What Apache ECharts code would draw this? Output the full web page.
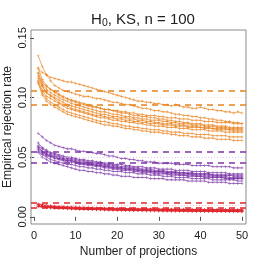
<!DOCTYPE html>
<html><head><meta charset="utf-8">
<script src="https://cdn.jsdelivr.net/npm/echarts@6/dist/echarts.min.js"></script>
<style>html,body{margin:0;padding:0;background:#fff}#c{width:262px;height:262px}</style>
</head><body><div id="c"></div>
<script>
var projections = [];
for (var i = 1; i <= 50; i++) projections.push(i);

var xTicks = [0, 10, 20, 30, 40, 50];
var yTicks = [0, 0.05, 0.10, 0.15];
var yTickLabels = ['0.00', '0.05', '0.10', '0.15'];

var nominalLevels = [0.10, 0.05, 0.01];
var bandOrange = [0.0941, 0.1059];
var bandPurple = [0.0457, 0.0543];
var bandRed = [0.0080, 0.0120];

var orange1 = [0.124,0.121,0.119,0.117,0.116,0.115,0.114,0.113,0.113,0.112,0.111,0.110,0.109,0.108,0.107,0.106,0.105,0.104,0.103,0.102,0.101,0.100,0.099,0.098,0.097,0.097,0.096,0.096,0.095,0.095,0.094,0.094,0.093,0.094,0.093,0.092,0.092,0.091,0.091,0.092,0.091,0.090,0.090,0.089,0.089,0.088,0.088,0.087,0.088,0.087];
var orange2 = [0.135,0.126,0.119,0.114,0.110,0.108,0.106,0.105,0.104,0.103,0.102,0.101,0.101,0.100,0.099,0.099,0.098,0.097,0.096,0.096,0.095,0.094,0.094,0.093,0.092,0.091,0.091,0.090,0.089,0.089,0.088,0.088,0.087,0.086,0.086,0.085,0.085,0.084,0.084,0.083,0.083,0.082,0.082,0.081,0.081,0.080,0.080,0.079,0.079,0.078];
var orange3 = [0.121,0.113,0.109,0.107,0.105,0.103,0.101,0.099,0.098,0.097,0.096,0.095,0.094,0.093,0.092,0.091,0.090,0.090,0.089,0.088,0.087,0.087,0.086,0.085,0.085,0.084,0.084,0.083,0.083,0.082,0.082,0.081,0.081,0.080,0.080,0.079,0.079,0.078,0.078,0.078,0.077,0.077,0.077,0.076,0.076,0.076,0.075,0.075,0.075,0.075];
var orange4 = [0.118,0.111,0.107,0.104,0.102,0.100,0.098,0.097,0.095,0.094,0.093,0.092,0.091,0.090,0.089,0.088,0.088,0.087,0.086,0.086,0.085,0.084,0.084,0.083,0.083,0.082,0.082,0.081,0.081,0.081,0.080,0.080,0.079,0.079,0.078,0.078,0.078,0.077,0.077,0.077,0.076,0.076,0.076,0.075,0.075,0.075,0.074,0.074,0.074,0.074];
var orange5 = [0.116,0.109,0.104,0.102,0.100,0.098,0.096,0.094,0.093,0.092,0.091,0.090,0.089,0.088,0.087,0.086,0.086,0.085,0.084,0.084,0.083,0.083,0.082,0.082,0.081,0.081,0.080,0.080,0.079,0.079,0.078,0.078,0.078,0.077,0.077,0.077,0.076,0.076,0.076,0.075,0.075,0.075,0.074,0.074,0.074,0.074,0.073,0.073,0.073,0.073];
var orange6 = [0.120,0.110,0.104,0.101,0.099,0.096,0.094,0.093,0.091,0.090,0.089,0.088,0.087,0.086,0.085,0.085,0.084,0.083,0.083,0.082,0.082,0.081,0.081,0.080,0.080,0.079,0.079,0.078,0.078,0.078,0.077,0.077,0.077,0.076,0.076,0.076,0.075,0.075,0.075,0.075,0.074,0.074,0.074,0.073,0.073,0.073,0.073,0.072,0.072,0.072];
var orange7 = [0.114,0.106,0.101,0.099,0.097,0.095,0.093,0.091,0.090,0.089,0.088,0.087,0.086,0.085,0.084,0.083,0.083,0.082,0.081,0.081,0.080,0.080,0.079,0.079,0.078,0.078,0.077,0.077,0.076,0.076,0.076,0.075,0.075,0.075,0.074,0.074,0.074,0.073,0.073,0.073,0.073,0.072,0.072,0.072,0.072,0.071,0.071,0.071,0.071,0.071];
var orange8 = [0.113,0.104,0.099,0.096,0.094,0.092,0.090,0.088,0.087,0.086,0.085,0.084,0.083,0.082,0.081,0.080,0.080,0.079,0.078,0.078,0.077,0.076,0.076,0.075,0.075,0.074,0.074,0.073,0.073,0.073,0.072,0.072,0.071,0.071,0.071,0.070,0.070,0.070,0.069,0.069,0.069,0.069,0.068,0.068,0.068,0.068,0.067,0.067,0.067,0.067];
var orange9 = [0.112,0.102,0.097,0.094,0.092,0.090,0.088,0.086,0.085,0.084,0.083,0.082,0.081,0.080,0.079,0.078,0.077,0.077,0.076,0.076,0.075,0.074,0.074,0.073,0.073,0.072,0.072,0.071,0.071,0.071,0.070,0.070,0.069,0.069,0.068,0.068,0.068,0.067,0.067,0.067,0.066,0.066,0.066,0.065,0.065,0.065,0.065,0.064,0.064,0.064];
var orange10 = [0.125,0.115,0.110,0.107,0.104,0.102,0.100,0.099,0.097,0.096,0.095,0.094,0.093,0.092,0.092,0.091,0.090,0.090,0.089,0.089,0.088,0.088,0.087,0.087,0.086,0.086,0.085,0.085,0.085,0.084,0.084,0.083,0.083,0.083,0.082,0.082,0.082,0.081,0.081,0.081,0.080,0.080,0.080,0.079,0.079,0.079,0.079,0.078,0.078,0.078];

var purple1 = [0.070,0.067,0.064,0.062,0.060,0.059,0.058,0.057,0.057,0.056,0.055,0.055,0.054,0.054,0.053,0.053,0.052,0.051,0.051,0.050,0.049,0.049,0.048,0.048,0.047,0.047,0.046,0.046,0.046,0.045,0.045,0.045,0.045,0.044,0.044,0.044,0.044,0.043,0.043,0.043,0.043,0.043,0.042,0.042,0.042,0.042,0.042,0.041,0.041,0.041];
var purple2 = [0.062,0.058,0.056,0.054,0.053,0.052,0.051,0.050,0.050,0.049,0.048,0.048,0.047,0.047,0.046,0.046,0.045,0.045,0.044,0.044,0.044,0.043,0.043,0.042,0.042,0.042,0.041,0.041,0.041,0.040,0.040,0.040,0.040,0.039,0.039,0.039,0.039,0.038,0.038,0.038,0.038,0.037,0.037,0.037,0.037,0.037,0.036,0.036,0.036,0.036];
var purple3 = [0.060,0.057,0.055,0.053,0.052,0.051,0.050,0.049,0.049,0.048,0.047,0.047,0.046,0.046,0.045,0.045,0.044,0.044,0.043,0.043,0.042,0.042,0.042,0.041,0.041,0.040,0.040,0.040,0.039,0.039,0.039,0.038,0.038,0.038,0.037,0.037,0.037,0.037,0.036,0.036,0.036,0.036,0.035,0.035,0.035,0.035,0.035,0.034,0.034,0.034];
var purple4 = [0.058,0.055,0.053,0.052,0.051,0.050,0.049,0.048,0.048,0.047,0.046,0.046,0.045,0.045,0.044,0.044,0.043,0.043,0.042,0.042,0.041,0.041,0.041,0.040,0.040,0.039,0.039,0.039,0.038,0.038,0.038,0.037,0.037,0.037,0.036,0.036,0.036,0.036,0.035,0.035,0.035,0.035,0.034,0.034,0.034,0.034,0.033,0.033,0.033,0.033];
var purple5 = [0.057,0.054,0.052,0.051,0.050,0.049,0.048,0.047,0.047,0.046,0.045,0.045,0.044,0.044,0.043,0.043,0.042,0.042,0.041,0.041,0.040,0.040,0.040,0.039,0.039,0.038,0.038,0.038,0.037,0.037,0.037,0.036,0.036,0.036,0.035,0.035,0.035,0.035,0.034,0.034,0.034,0.034,0.033,0.033,0.033,0.033,0.032,0.032,0.032,0.032];
var purple6 = [0.056,0.053,0.051,0.050,0.049,0.048,0.047,0.046,0.046,0.045,0.044,0.044,0.043,0.043,0.042,0.042,0.041,0.041,0.040,0.040,0.039,0.039,0.039,0.038,0.038,0.037,0.037,0.037,0.036,0.036,0.036,0.036,0.035,0.035,0.035,0.035,0.034,0.034,0.034,0.034,0.033,0.033,0.033,0.033,0.033,0.032,0.032,0.032,0.032,0.032];
var purple7 = [0.055,0.052,0.050,0.048,0.047,0.046,0.045,0.044,0.044,0.043,0.042,0.042,0.041,0.041,0.040,0.040,0.039,0.039,0.038,0.038,0.038,0.037,0.037,0.037,0.036,0.036,0.036,0.035,0.035,0.035,0.034,0.034,0.034,0.033,0.033,0.033,0.033,0.032,0.032,0.032,0.032,0.032,0.031,0.031,0.031,0.031,0.031,0.031,0.030,0.030];
var purple8 = [0.054,0.050,0.048,0.046,0.045,0.044,0.043,0.042,0.041,0.040,0.039,0.039,0.038,0.038,0.037,0.037,0.036,0.036,0.035,0.035,0.034,0.034,0.034,0.033,0.033,0.033,0.033,0.032,0.032,0.032,0.032,0.031,0.031,0.031,0.031,0.031,0.030,0.030,0.030,0.030,0.030,0.029,0.029,0.029,0.029,0.029,0.028,0.028,0.028,0.028];
var purple9 = [0.059,0.055,0.052,0.051,0.050,0.049,0.048,0.047,0.047,0.046,0.045,0.045,0.044,0.044,0.043,0.043,0.042,0.042,0.041,0.041,0.041,0.040,0.040,0.040,0.039,0.039,0.039,0.038,0.038,0.038,0.038,0.037,0.037,0.037,0.037,0.037,0.036,0.036,0.036,0.036,0.036,0.036,0.035,0.035,0.035,0.035,0.035,0.035,0.035,0.035];

var red1 = [0.0110,0.0102,0.0098,0.0094,0.0091,0.0089,0.0087,0.0085,0.0083,0.0082,0.0081,0.0080,0.0078,0.0077,0.0076,0.0075,0.0074,0.0073,0.0072,0.0071,0.0071,0.0070,0.0069,0.0069,0.0068,0.0068,0.0067,0.0067,0.0066,0.0066,0.0065,0.0065,0.0065,0.0064,0.0064,0.0064,0.0063,0.0063,0.0063,0.0062,0.0062,0.0062,0.0062,0.0061,0.0061,0.0061,0.0061,0.0060,0.0060,0.0060];
var red2 = [0.0100,0.0094,0.0090,0.0087,0.0084,0.0082,0.0080,0.0078,0.0076,0.0075,0.0073,0.0072,0.0071,0.0070,0.0069,0.0068,0.0067,0.0066,0.0065,0.0065,0.0064,0.0063,0.0063,0.0062,0.0061,0.0061,0.0060,0.0060,0.0059,0.0059,0.0058,0.0058,0.0058,0.0057,0.0057,0.0056,0.0056,0.0056,0.0055,0.0055,0.0055,0.0054,0.0054,0.0054,0.0053,0.0053,0.0053,0.0053,0.0052,0.0052];
var red3 = [0.0092,0.0088,0.0084,0.0081,0.0079,0.0077,0.0075,0.0073,0.0071,0.0070,0.0068,0.0067,0.0066,0.0065,0.0064,0.0063,0.0062,0.0061,0.0060,0.0060,0.0059,0.0058,0.0058,0.0057,0.0056,0.0056,0.0055,0.0055,0.0054,0.0054,0.0053,0.0053,0.0052,0.0052,0.0052,0.0051,0.0051,0.0050,0.0050,0.0050,0.0049,0.0049,0.0049,0.0048,0.0048,0.0048,0.0048,0.0047,0.0047,0.0047];
var red4 = [0.0098,0.0092,0.0087,0.0083,0.0080,0.0077,0.0075,0.0073,0.0071,0.0069,0.0067,0.0066,0.0064,0.0063,0.0062,0.0061,0.0060,0.0059,0.0058,0.0057,0.0056,0.0056,0.0055,0.0054,0.0054,0.0053,0.0052,0.0052,0.0051,0.0051,0.0050,0.0050,0.0049,0.0049,0.0048,0.0048,0.0048,0.0047,0.0047,0.0046,0.0046,0.0046,0.0045,0.0045,0.0045,0.0044,0.0044,0.0044,0.0044,0.0043];
var red5 = [0.0085,0.0081,0.0078,0.0075,0.0073,0.0071,0.0069,0.0068,0.0066,0.0065,0.0064,0.0063,0.0062,0.0061,0.0060,0.0059,0.0058,0.0057,0.0057,0.0056,0.0055,0.0055,0.0054,0.0053,0.0053,0.0052,0.0052,0.0051,0.0051,0.0050,0.0050,0.0049,0.0049,0.0049,0.0048,0.0048,0.0047,0.0047,0.0047,0.0046,0.0046,0.0046,0.0045,0.0045,0.0045,0.0045,0.0044,0.0044,0.0044,0.0044];
var red6 = [0.0095,0.0090,0.0086,0.0083,0.0080,0.0078,0.0076,0.0074,0.0073,0.0072,0.0071,0.0070,0.0069,0.0068,0.0068,0.0067,0.0066,0.0066,0.0065,0.0065,0.0064,0.0064,0.0063,0.0063,0.0062,0.0062,0.0062,0.0061,0.0061,0.0061,0.0060,0.0060,0.0060,0.0059,0.0059,0.0059,0.0059,0.0058,0.0058,0.0058,0.0058,0.0057,0.0057,0.0057,0.0057,0.0057,0.0056,0.0056,0.0056,0.0056];
var red7 = [0.0088,0.0084,0.0080,0.0077,0.0075,0.0073,0.0071,0.0069,0.0068,0.0067,0.0066,0.0065,0.0064,0.0063,0.0062,0.0062,0.0061,0.0060,0.0060,0.0059,0.0059,0.0058,0.0058,0.0057,0.0057,0.0056,0.0056,0.0056,0.0055,0.0055,0.0055,0.0054,0.0054,0.0054,0.0053,0.0053,0.0053,0.0053,0.0052,0.0052,0.0052,0.0052,0.0051,0.0051,0.0051,0.0051,0.0051,0.0050,0.0050,0.0050];
var red8 = [0.0102,0.0096,0.0091,0.0087,0.0084,0.0081,0.0079,0.0077,0.0076,0.0075,0.0074,0.0073,0.0072,0.0071,0.0070,0.0069,0.0069,0.0068,0.0067,0.0067,0.0066,0.0066,0.0065,0.0065,0.0064,0.0064,0.0064,0.0063,0.0063,0.0063,0.0062,0.0062,0.0062,0.0061,0.0061,0.0061,0.0061,0.0060,0.0060,0.0060,0.0060,0.0059,0.0059,0.0059,0.0059,0.0059,0.0058,0.0058,0.0058,0.0058];

var groups = [
  {color: '#E8821E', faint: '#F6CFA6', band: bandOrange, level: nominalLevels[0],
   lines: [orange1, orange2, orange3, orange4, orange5, orange6, orange7, orange8, orange9, orange10]},
  {color: '#7B35A6', faint: '#D3BDE2', band: bandPurple, level: nominalLevels[1],
   lines: [purple1, purple2, purple3, purple4, purple5, purple6, purple7, purple8, purple9]},
  {color: '#E0262E', faint: '#F4B0B2', band: bandRed, level: nominalLevels[2],
   lines: [red1, red2, red3, red4, red5, red6, red7, red8]}
];

var plusSymbol = 'path://M2,0H3V2H5V3H3V5H2V3H0V2H2Z';
var series = [];
groups.forEach(function (g) {
  g.lines.forEach(function (vals) {
    series.push({
      type: 'line', silent: true, animation: false,
      data: projections.map(function (x, k) { return [x, vals[k]]; }),
      lineStyle: {color: g.color, width: 0.8, opacity: 0.85},
      symbol: plusSymbol, symbolSize: 3, showSymbol: true,
      itemStyle: {color: g.color, opacity: 0.7}
    });
  });
  series.push({
    type: 'line', data: [], silent: true, animation: false,
    markLine: {
      silent: true, symbol: 'none', animation: false, precision: 4, label: {show: false},
      data: [
        {yAxis: g.band[0], lineStyle: {color: g.color, type: [6, 5], width: 1.6}},
        {yAxis: g.band[1], lineStyle: {color: g.color, type: [6, 5], width: 1.6}},
        {yAxis: g.level, lineStyle: {color: g.faint, type: [1, 2], width: 0.8}}
      ]
    }
  });
});

var chart = echarts.init(document.getElementById('c'), null, {renderer: 'canvas'});
var txt = '#222';
var fontFam = '"Liberation Sans", Arial, sans-serif';
chart.setOption({
  animation: false,
  title: {
    text: 'H{s|0}, KS, n = 100', left: 138, top: 5, textAlign: 'center',
    textStyle: {fontSize: 15, fontWeight: 'normal', color: txt, fontFamily: fontFam,
      rich: {s: {fontSize: 10.5, verticalAlign: 'bottom', padding: [8, 0, 0, 0], color: txt, fontFamily: fontFam}}}
  },
  grid: {left: 31, right: 16, top: 30, bottom: 38, outerBoundsMode: 'none', containLabel: false,
    show: true, borderColor: '#8a8a8a', borderWidth: 1, backgroundColor: 'transparent'},
  xAxis: {
    type: 'value', min: -0.72, max: 50.96,
    name: 'Number of projections', nameLocation: 'middle', nameGap: 22, nameMoveOverlap: false,
    nameTextStyle: {fontSize: 12, color: txt, fontFamily: fontFam},
    axisLine: {show: false}, splitLine: {show: false},
    axisTick: {show: true, length: 4, lineStyle: {color: '#555'}, customValues: xTicks},
    axisLabel: {fontSize: 11, color: txt, fontFamily: fontFam, margin: 6, customValues: xTicks,
      formatter: function (v) { return String(v); }}
  },
  yAxis: {
    type: 'value', min: -0.006, max: 0.1566,
    name: 'Empirical rejection rate', nameLocation: 'middle', nameGap: 17, nameRotate: 90, nameMoveOverlap: false,
    nameTextStyle: {fontSize: 12, color: txt, fontFamily: fontFam},
    axisLine: {show: false}, splitLine: {show: false},
    axisTick: {show: true, length: 4, lineStyle: {color: '#555'}, customValues: yTicks},
    axisLabel: {fontSize: 11, color: txt, fontFamily: fontFam, rotate: 90, margin: 3, customValues: yTicks,
      formatter: function (v) { var k = yTicks.indexOf(+v.toFixed(2)); return k >= 0 ? yTickLabels[k] : ''; }}
  },
  series: series
});
</script>
</body></html>
